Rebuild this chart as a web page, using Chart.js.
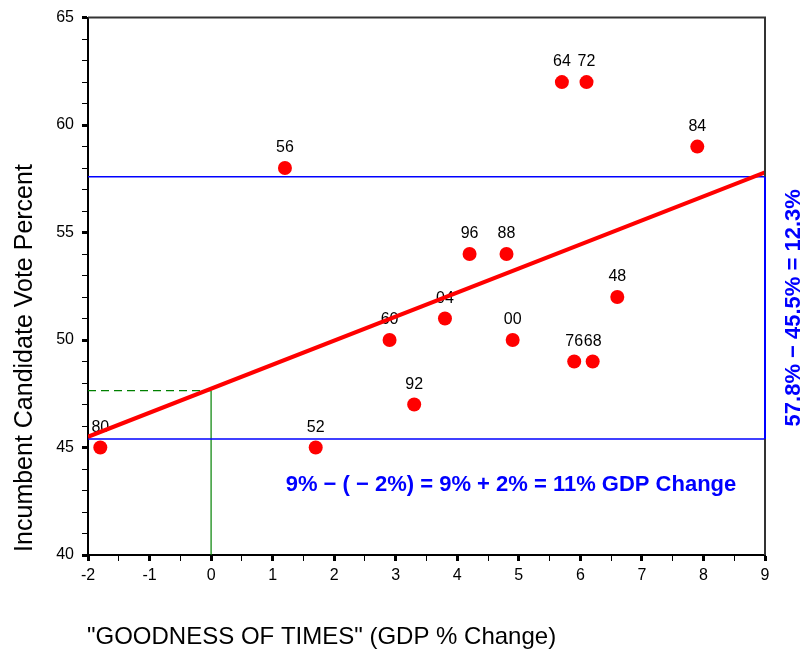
<!DOCTYPE html>
<html>
<head>
<meta charset="utf-8">
<script src="https://cdn.jsdelivr.net/npm/chart.js@4/dist/chart.umd.min.js"></script>
<style>
  body { margin: 0; background: #fff; }
  #wrap { width: 807px; height: 654px; }
</style>
</head>
<body>
<div id="wrap"><canvas id="myChart" width="807" height="654"></canvas></div>
<script>
// election years and values
const years = ["80", "52", "56", "60", "92", "04", "96", "88", "00", "76", "68", "48", "64", "72", "84"];
const gdp = [-1.8, 1.7, 1.2, 2.9, 3.3, 3.8, 4.2, 4.8, 4.9, 5.9, 6.2, 6.6, 5.7, 6.1, 7.9];
const vote = [45, 45, 58, 50, 47, 51, 54, 54, 50, 49, 49, 52, 62, 62, 59];

// fitted line ends
const fitX = [-2, 9];
const fitY = [45.5, 57.8];

// reference lines
const hiY = 57.6;
const loY = 45.4;
const yAtZero = 47.65;

const xMin = -2, xMax = 9, yMin = 40, yMax = 65;

const xTitle = '"GOODNESS OF TIMES" (GDP % Change)';
const yTitle = "Incumbent Candidate Vote Percent";
const gdpNote = "9% \u2212 ( \u2212 2%) = 9% + 2% = 11% GDP Change";
const voteNote = "57.8% \u2212 45.5% = 12.3%";

const FONT = "'Liberation Sans', Arial, sans-serif";

const pts = gdp.map((x, i) => ({ x: x, y: vote[i] }));

// labels drawn before the datasets so the red line runs over them
const labelPlugin = {
  id: "labels",
  beforeDatasetsDraw(chart) {
    const ctx = chart.ctx;
    const meta = chart.getDatasetMeta(0);
    ctx.save();
    ctx.font = "16px " + FONT;
    ctx.fillStyle = "#000";
    ctx.textAlign = "center";
    ctx.textBaseline = "alphabetic";
    meta.data.forEach((p, i) => {
      ctx.fillText(years[i], p.x, p.y - 16);
    });
    ctx.restore();
  },
  afterDraw(chart) {
    const ctx = chart.ctx;
    const ys = chart.scales.y;
    const a = chart.chartArea;
    ctx.save();
    // frame top and right
    ctx.strokeStyle = "#333";
    ctx.lineWidth = 2;
    ctx.beginPath();
    ctx.moveTo(a.left, a.top);
    ctx.lineTo(a.right, a.top);
    ctx.lineTo(a.right, a.bottom);
    ctx.stroke();
    ctx.strokeStyle = "#0000ff";
    ctx.beginPath();
    ctx.moveTo(a.right, ys.getPixelForValue(hiY));
    ctx.lineTo(a.right, ys.getPixelForValue(loY));
    ctx.stroke();

    // titles
    ctx.fillStyle = "#000";
    ctx.font = "24px " + FONT;
    ctx.textAlign = "left";
    ctx.textBaseline = "middle";
    ctx.fillText(xTitle, a.left - 1, 637);
    ctx.save();
    ctx.font = "25px " + FONT;
    ctx.translate(25, 358);
    ctx.rotate(-Math.PI / 2);
    ctx.textAlign = "center";
    ctx.fillText(yTitle, 0, 0);
    ctx.restore();

    // blue notes
    ctx.fillStyle = "#0000ff";
    ctx.font = "bold 22px " + FONT;
    ctx.textAlign = "center";
    ctx.fillText(gdpNote, 511, 485);
    ctx.save();
    ctx.translate(794, (ys.getPixelForValue(hiY) + ys.getPixelForValue(loY)) / 2);
    ctx.rotate(-Math.PI / 2);
    ctx.fillText(voteNote, 0, 0);
    ctx.restore();
    ctx.restore();
  }
};

const ctx = document.getElementById("myChart").getContext("2d");

const myChart = new Chart(ctx, {
  type: "scatter",
  data: {
    datasets: [
      {
        label: "years",
        data: pts,
        backgroundColor: "#ff0000",
        borderColor: "#ff0000",
        pointRadius: 7,
        pointBorderWidth: 0,
        order: 0,
      },
      {
        label: "fit",
        data: fitX.map((x, i) => ({ x: x, y: fitY[i] })),
        showLine: true,
        borderColor: "#ff0000",
        borderWidth: 4,
        pointRadius: 0,
        order: 1,
      },
      {
        label: "hi",
        data: [{ x: xMin, y: hiY }, { x: xMax, y: hiY }],
        showLine: true,
        borderColor: "#0000ff",
        borderWidth: 1.5,
        pointRadius: 0,
        order: 2,
      },
      {
        label: "lo",
        data: [{ x: xMin, y: loY }, { x: xMax, y: loY }],
        showLine: true,
        borderColor: "#0000ff",
        borderWidth: 1.5,
        pointRadius: 0,
        order: 2,
      },
      {
        label: "zero h",
        data: [{ x: xMin, y: yAtZero }, { x: 0, y: yAtZero }],
        showLine: true,
        borderColor: "#008000",
        borderWidth: 1.2,
        borderDash: [8, 5],
        pointRadius: 0,
        order: 3,
      },
      {
        label: "zero v",
        data: [{ x: 0, y: yMin }, { x: 0, y: yAtZero }],
        showLine: true,
        borderColor: "#008000",
        borderWidth: 1.2,
        pointRadius: 0,
        order: 3,
      },
    ],
  },
  options: {
    responsive: false,
    animation: false,
    layout: { padding: { top: 16, right: 42, left: 0, bottom: 0 } },
    plugins: {
      legend: { display: false },
      tooltip: { enabled: false },
    },
    scales: {
      x: {
        type: "linear",
        min: xMin,
        max: xMax,
        afterFit(scale) { scale.height = 99; },
        border: { color: "#000", width: 2 },
        grid: {
          drawOnChartArea: false,
          tickLength: 6,
          tickColor: "#000",
          tickWidth: (c) => (Number.isInteger(c.tick.value) ? 3 : 1),
        },
        ticks: {
          stepSize: 0.5,
          autoSkip: false,
          maxRotation: 0,
          color: "#000",
          font: { family: FONT, size: 16 },
          padding: 5,
          callback: (v) => (Number.isInteger(v) ? String(v) : ""),
        },
      },
      y: {
        type: "linear",
        min: yMin,
        max: yMax,
        afterFit(scale) { scale.width = 88; },
        border: { color: "#000", width: 2 },
        grid: {
          drawOnChartArea: false,
          tickLength: 6,
          tickColor: "#000",
          tickWidth: (c) => (c.tick.value % 5 === 0 ? 3 : 1),
        },
        ticks: {
          stepSize: 1,
          autoSkip: false,
          color: "#000",
          font: { family: FONT, size: 16 },
          padding: 8,
          callback: (v) => (v % 5 === 0 ? String(v) : ""),
        },
      },
    },
  },
  plugins: [labelPlugin],
});
</script>
</body>
</html>
